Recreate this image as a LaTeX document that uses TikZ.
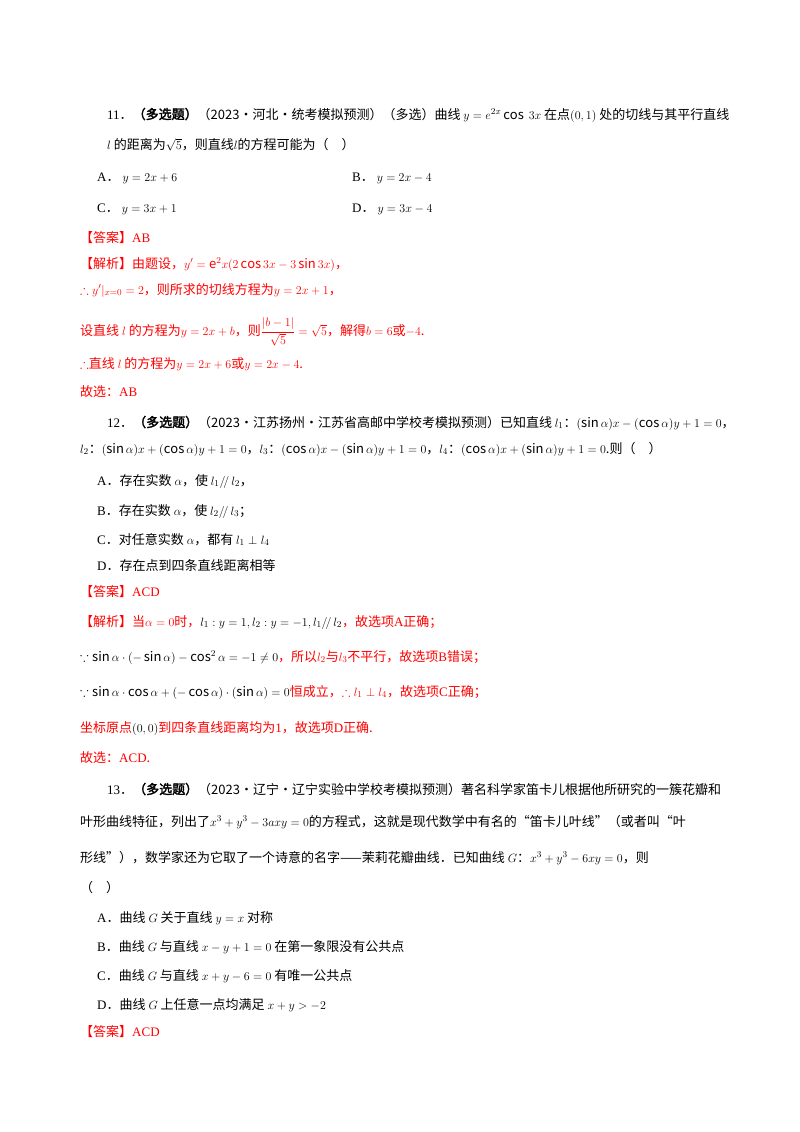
\documentclass[tikz,border=0pt]{standalone}
\usepackage{amsmath,amssymb}
\usepackage{fontspec}
\setmainfont{Noto Sans CJK SC}[AutoFakeBold=2.5]
\newfontfamily\lat{Liberation Serif}
\definecolor{ans}{HTML}{FF0000}
\begin{document}
\begin{tikzpicture}[x=1pt,y=-1pt,t/.style={anchor=base west,inner sep=0,font=\fontsize{13}{15}\selectfont},r/.style={t,text=ans}]
\useasboundingbox (0,0) rectangle (800,1132);
\fill[white] (0,0) rectangle (800,1132);
% Q11
\node[t] (a1) at (107,119) {{\lat 11}．\textbf{（多选题）}（2023·河北·统考模拟预测）（多选）曲线 $y=e^{2x}\cos\ 3x$ 在点$\left(0,1\right)$ 处的切线与其平行直线};
\node[t] (a2) at (107,149) {$l$ 的距离为$\sqrt{5}$，则直线$l$的方程可能为（\quad ）};
\node[t] (a3) at (97,181) {{\lat A}．\ $y=2x+6$};
\node[t] (a4) at (352,181) {{\lat B}．\ $y=2x-4$};
\node[t] (a5) at (97,212) {{\lat C}．\ $y=3x+1$};
\node[t] (a6) at (352,212) {{\lat D}．\ $y=3x-4$};
\node[r] (a7) at (80,242) {【答案】{\lat AB}};
\node[r] (a8) at (80,268) {【解析】由题设，$y'=\mathrm{e}^2x(2\cos 3x-3\sin 3x)$，};
\node[r] (a9) at (80,294) {$\therefore y'|_{x=0}=2$，则所求的切线方程为$y=2x+1$，};
\node[r] (a10) at (80,335) {设直线 $l$ 的方程为$y=2x+b$，则$\dfrac{|b-1|}{\sqrt5}=\sqrt5$，解得$b=6$或$-4$.};
\node[r] (a11) at (80,368) {$\therefore$直线 $l$ 的方程为$y=2x+6$或$y=2x-4$.};
\node[r] (a12) at (80,396) {故选：{\lat AB}};
% Q12
\node[t] (b1) at (107,427) {{\lat 12}．\textbf{（多选题）}（2023·江苏扬州·江苏省高邮中学校考模拟预测）已知直线 $l_1$：$(\sin\alpha)x-(\cos\alpha)y+1=0$，};
\node[t] (b2) at (80,453) {$l_2$：$(\sin\alpha)x+(\cos\alpha)y+1=0$，$l_3$：$(\cos\alpha)x-(\sin\alpha)y+1=0$，$l_4$：$(\cos\alpha)x+(\sin\alpha)y+1=0$.则（\quad ）};
\node[t] (b3) at (97,485) {{\lat A}．存在实数 $\alpha$，使 $l_1/\!/\,l_2$，};
\node[t] (b4) at (97,515) {{\lat B}．存在实数 $\alpha$，使 $l_2/\!/\,l_3$；};
\node[t] (b5) at (97,544) {{\lat C}．对任意实数 $\alpha$，都有 $l_1\perp l_4$};
\node[t] (b6) at (97,570) {{\lat D}．存在点到四条直线距离相等};
\node[r] (b7) at (80,596) {【答案】{\lat ACD}};
\node[r] (b8) at (80,626) {【解析】当$\alpha=0$时，\textcolor{black}{$l_1:y=1,l_2:y=-1,l_1/\!/\,l_2$}，故选项{\lat A}正确；};
\node[r] (b9) at (80,661) {\textcolor{black}{$\because\sin\alpha\cdot(-\sin\alpha)-\cos^2\alpha=-1\neq0$}，所以$l_2$与$l_3$不平行，故选项{\lat B}错误；};
\node[r] (b10) at (80,696) {\textcolor{black}{$\because\sin\alpha\cdot\cos\alpha+(-\cos\alpha)\cdot(\sin\alpha)=0$}恒成立，$\therefore l_1\perp l_4$，故选项{\lat C}正确；};
\node[r] (b11) at (80,732) {坐标原点\textcolor{black}{$(0,0)$}到四条直线距离均为{\lat 1}，故选项{\lat D}正确.};
\node[r] (b12) at (80,762) {故选：{\lat ACD}.};
% Q13
\node[t] (c1) at (107,794) {{\lat 13}．\textbf{（多选题）}（2023·辽宁·辽宁实验中学校考模拟预测）著名科学家笛卡儿根据他所研究的一簇花瓣和};
\node[t] (c2) at (80,826) {叶形曲线特征，列出了$x^3+y^3-3axy=0$的方程式，这就是现代数学中有名的“笛卡儿叶线”（或者叫“叶};
\node[t] (c3) at (80,862) {形线”），数学家还为它取了一个诗意的名字——茉莉花瓣曲线．已知曲线 $G$：$x^3+y^3-6xy=0$，则};
\node[t] (c4) at (80,892) {（\quad ）};
\node[t] (c5) at (97,922) {{\lat A}．曲线 $G$ 关于直线 $y=x$ 对称};
\node[t] (c6) at (97,951) {{\lat B}．曲线 $G$ 与直线 $x-y+1=0$ 在第一象限没有公共点};
\node[t] (c7) at (97,980) {{\lat C}．曲线 $G$ 与直线 $x+y-6=0$ 有唯一公共点};
\node[t] (c8) at (97,1009) {{\lat D}．曲线 $G$ 上任意一点均满足 $x+y>-2$};
\node[r] (c9) at (80,1036) {【答案】{\lat ACD}};
\end{tikzpicture}
\end{document}
